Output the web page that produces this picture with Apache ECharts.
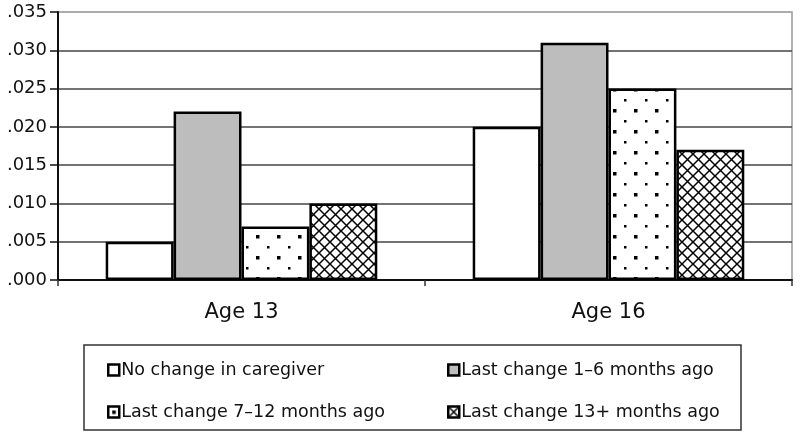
<!DOCTYPE html>
<html>
<head>
<meta charset="utf-8">
<script src="https://cdn.jsdelivr.net/npm/echarts@6/dist/echarts.min.js"></script>
<style>
html,body{margin:0;padding:0;background:#fff;}
#chart{width:800px;height:436px;}
</style>
</head>
<body>
<div id="chart"></div>
<script>
// ---- data ----
const categories = ['Age 13', 'Age 16'];
const seriesNames = [
  'No change in caregiver',
  'Last change 1\u20136 months ago',
  'Last change 7\u201312 months ago',
  'Last change 13+ months ago'
];
const noChange = [0.005, 0.020];
const change1to6 = [0.022, 0.031];
const change7to12 = [0.007, 0.025];
const change13plus = [0.010, 0.017];
const yMin = 0, yMax = 0.035, yStep = 0.005;

// ---- fill patterns ----
function dotTile() {
  const c = document.createElement('canvas');
  c.width = 21; c.height = 21;
  const g = c.getContext('2d');
  g.fillStyle = '#fff'; g.fillRect(0, 0, 21, 21);
  g.fillStyle = '#000';
  g.fillRect(4, 4, 3.5, 3.5);
  g.fillRect(15, 15, 2.5, 2.5);
  return c;
}
function hatchTile() {
  const s = 11;
  const c = document.createElement('canvas');
  c.width = s; c.height = s;
  const g = c.getContext('2d');
  g.fillStyle = '#fff'; g.fillRect(0, 0, s, s);
  g.strokeStyle = '#000'; g.lineWidth = 1.5;
  g.beginPath();
  g.moveTo(-1, -1); g.lineTo(s + 1, s + 1);
  g.moveTo(s + 1, -1); g.lineTo(-1, s + 1);
  g.stroke();
  return c;
}
const fills = [
  '#ffffff',
  '#bdbdbd',
  { image: dotTile(), repeat: 'repeat' },
  { image: hatchTile(), repeat: 'repeat' }
];
const values = [noChange, change1to6, change7to12, change13plus];

const FONT = 'DejaVu Sans';
const chart = echarts.init(document.getElementById('chart'), null, { renderer: 'canvas' });

const legendCommon = {
  orient: 'vertical',
  top: 360,
  itemWidth: 11,
  itemHeight: 11,
  itemGap: 22,
  icon: 'rect',
  padding: 0,
  itemStyle: { borderColor: '#000', borderWidth: 2.5 },
  textStyle: { fontFamily: FONT, fontSize: 17.5, color: '#111', lineHeight: 20, padding: [0, 0, 0, -3] }
};

chart.setOption({
  animation: false,
  backgroundColor: '#fff',
  grid: { left: 58, right: 8, top: 12, bottom: 156, show: true, borderColor: '#999', borderWidth: 1.5, backgroundColor: 'transparent' },
  legend: [
    Object.assign({}, legendCommon, { left: 107, data: [seriesNames[0], seriesNames[2]] }),
    Object.assign({}, legendCommon, { left: 447, data: [seriesNames[1], seriesNames[3]] })
  ],
  graphic: [{
    type: 'rect',
    shape: { x: 84, y: 345, width: 657, height: 85 },
    style: { fill: 'none', stroke: '#333', lineWidth: 1.5 },
    silent: true
  }],
  xAxis: {
    type: 'category',
    data: categories,
    axisLine: { lineStyle: { color: '#111', width: 2 } },
    axisTick: { show: true, length: 6, lineStyle: { color: '#333', width: 1.5 } },
    axisLabel: { fontFamily: FONT, fontSize: 21, color: '#111', margin: 22 }
  },
  yAxis: {
    type: 'value',
    min: yMin,
    max: yMax,
    interval: yStep,
    axisLine: { show: true, lineStyle: { color: '#111', width: 2 } },
    axisTick: { show: true, length: 8, lineStyle: { color: '#111', width: 1.5 } },
    axisLabel: {
      fontFamily: FONT, fontSize: 18, color: '#111', margin: 11,
      formatter: v => v.toFixed(3).replace(/^0/, '')
    },
    splitLine: { show: true, lineStyle: { color: ['#444', '#444', '#444', '#444', '#444', '#444', '#444', '#aaa'], width: 1.5 } }
  },
  series: seriesNames.map((name, i) => ({
    name: name,
    type: 'bar',
    data: values[i],
    barGap: '0%',
    barCategoryGap: '26%',
    itemStyle: { color: fills[i], borderColor: '#000', borderWidth: 2.5 }
  }))
});
</script>
</body>
</html>
